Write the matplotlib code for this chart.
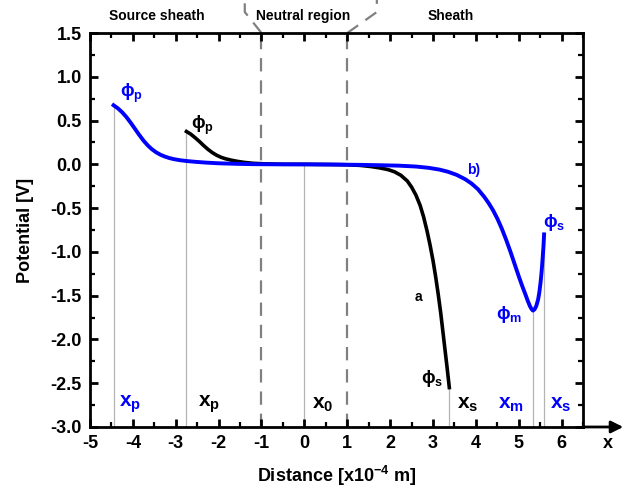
import matplotlib
matplotlib.use("Agg")
import matplotlib.pyplot as plt
from matplotlib.ticker import MultipleLocator, FormatStrFormatter

plt.rcParams["font.family"] = ["Liberation Sans", "DejaVu Sans"]
plt.rcParams["font.weight"] = "bold"
plt.rcParams["axes.unicode_minus"] = False
plt.rcParams["mathtext.fontset"] = "custom"
plt.rcParams["mathtext.rm"] = "Liberation Sans:bold"
plt.rcParams["mathtext.it"] = "Liberation Sans:bold"
plt.rcParams["mathtext.bf"] = "Liberation Sans:bold"
plt.rcParams["mathtext.fallback"] = "stixsans"

# curve b) (blue)
blue_x = [-4.45, -4.35, -4.25, -4.15, -4.05, -3.95, -3.85, -3.75, -3.65, -3.55,
          -3.45, -3.35, -3.25, -3.15, -3.05, -2.90, -2.75, -2.55, -2.30, -2.00,
          -1.60, -1.20, -0.60, 0.00, 0.80, 1.30, 1.76, 2.20, 2.60, 2.90,
          3.15, 3.35, 3.55, 3.75, 3.90, 4.05, 4.20, 4.30, 4.40, 4.50,
          4.60, 4.70, 4.80, 4.90, 5.00, 5.08, 5.15, 5.21, 5.26, 5.30,
          5.33, 5.37, 5.41, 5.45, 5.48, 5.51, 5.535, 5.555, 5.575, 5.59]
blue_y = [0.675, 0.640, 0.595, 0.540, 0.475, 0.405, 0.335, 0.270, 0.215, 0.170,
          0.135, 0.108, 0.088, 0.072, 0.060, 0.047, 0.038, 0.029, 0.020, 0.012,
          0.006, 0.002, 0.0, 0.0, -0.003, -0.006, -0.010, -0.015, -0.025, -0.040,
          -0.060, -0.085, -0.120, -0.170, -0.220, -0.285, -0.375, -0.445, -0.525, -0.620,
          -0.730, -0.855, -0.990, -1.135, -1.280, -1.390, -1.480, -1.560, -1.620, -1.655,
          -1.670, -1.655, -1.615, -1.545, -1.460, -1.340, -1.210, -1.080, -0.940, -0.800]

# curve a (black)
black_x = [-2.75, -2.65, -2.55, -2.45, -2.35, -2.25, -2.15, -2.05, -1.95, -1.85,
           -1.70, -1.55, -1.40, -1.20, -0.90, -0.50, 0.00, 0.60, 1.00, 1.30,
           1.55, 1.75, 1.95, 2.10, 2.25, 2.40, 2.50, 2.60, 2.70, 2.78,
           2.86, 2.93, 3.00, 3.06, 3.12, 3.18, 3.23, 3.28, 3.33, 3.38]
black_y = [0.375, 0.345, 0.305, 0.262, 0.215, 0.172, 0.135, 0.105, 0.082, 0.065,
           0.047, 0.033, 0.022, 0.012, 0.005, 0.001, 0.0, -0.002, -0.005, -0.012,
           -0.025, -0.040, -0.060, -0.085, -0.125, -0.190, -0.260, -0.350, -0.470, -0.600,
           -0.760, -0.920, -1.100, -1.280, -1.480, -1.700, -1.910, -2.120, -2.330, -2.550]

# region borders and marked positions
region_x = [-1.0, 1.0]
region_names = ["Source sheath", "Neutral region", "Sheath"]
region_name_x = [-3.44, -0.03, 3.41]

mark_x = [-4.45, -2.75, 0.0, 3.38, 5.33, 5.59]
mark_top = [0.675, 0.375, 0.0, -2.55, -1.67, -0.80]

bottom_labels = [r"$\mathbf{x_p}$", r"$\mathbf{x_p}$", r"$\mathbf{x_0}$",
                 r"$\mathbf{x_s}$", r"$\mathbf{x_m}$", r"$\mathbf{x_s}$"]
bottom_label_x = [-4.07, -2.23, 0.42, 3.81, 4.81, 5.98]
bottom_colors = ["#0000ff", "black", "black", "black", "#0000ff", "#0000ff"]

BLUE = "#0000ff"

fig = plt.figure(figsize=(6.27, 4.95), dpi=100)
ax = fig.add_axes([0.1435, 0.1374, 0.7865, 0.7959])

ax.set_xlim(-5, 6.5)
ax.set_ylim(-3.0, 1.5)

# thin gray markers
for xv, yt in zip(mark_x, mark_top):
    ax.plot([xv, xv], [-3.0, yt], color="#b4b4b4", lw=0.9, zorder=1)

# region borders (dashed), continuing above the frame
for xv in region_x:
    ax.plot([xv, xv], [-3.0, 1.5], color="#808080", lw=1.6,
            dashes=(6, 4), zorder=1)
ax.plot([-1.0, -1.39, -1.39], [1.5, 1.74, 1.95], color="#808080", lw=1.6,
        dashes=(6, 4), clip_on=False)
ax.plot([1.0, 1.69, 1.69], [1.5, 1.74, 1.95], color="#808080", lw=1.6,
        dashes=(6, 4), clip_on=False)

ax.plot(black_x, black_y, color="black", lw=2.6, zorder=3)
ax.plot(blue_x, blue_y, color=BLUE, lw=2.8, zorder=4)

for name, xv in zip(region_names, region_name_x):
    ax.text(xv, 1.69, name, ha="center", va="center", fontsize=10,
            fontweight="bold", clip_on=False)

# curve annotations
ax.text(-4.04, 0.81, r"$\phi_\mathbf{p}$", color=BLUE, fontsize=13, ha="center", va="center")
ax.text(-2.39, 0.45, r"$\phi_\mathbf{p}$", color="black", fontsize=13, ha="center", va="center")
ax.text(3.95, -0.07, "b)", color=BLUE, fontsize=10, ha="center", va="center")
ax.text(2.65, -1.51, "a", color="black", fontsize=10, ha="center", va="center")
ax.text(2.97, -2.45, r"$\phi_\mathbf{s}$", color="black", fontsize=13, ha="center", va="center")
ax.text(4.77, -1.72, r"$\phi_\mathbf{m}$", color=BLUE, fontsize=13, ha="center", va="center")
ax.text(5.82, -0.66, r"$\phi_\mathbf{s}$", color=BLUE, fontsize=13, ha="center", va="center")

for lab, xv, c in zip(bottom_labels, bottom_label_x, bottom_colors):
    ax.text(xv, -2.74, lab, color=c, fontsize=15, ha="center", va="center")

# axis ticks
ax.xaxis.set_major_locator(MultipleLocator(1))
ax.xaxis.set_minor_locator(MultipleLocator(0.5))
ax.yaxis.set_major_locator(MultipleLocator(0.5))
ax.yaxis.set_minor_locator(MultipleLocator(0.25))
ax.yaxis.set_major_formatter(FormatStrFormatter("%.1f"))
ax.tick_params(which="major", direction="in", length=6, width=2,
               top=True, right=True, labelsize=13, pad=6)
ax.tick_params(which="minor", direction="in", length=3.5, width=1.6,
               top=True, right=True)
for lab in ax.get_xticklabels() + ax.get_yticklabels():
    lab.set_fontweight("bold")
for sp in ax.spines.values():
    sp.set_linewidth(2)

# arrow extending the x axis
ax.annotate("", xy=(7.5, -3.0), xytext=(6.45, -3.0), xycoords="data",
            arrowprops=dict(arrowstyle="-|>", color="black", lw=2,
                            mutation_scale=18), annotation_clip=False)
ax.text(7.07, -3.19, "x", fontsize=13, fontweight="bold", ha="center", va="center",
        clip_on=False)

ax.set_xlabel(r"Distance [x10$^{\mathbf{-4}}$ m]", fontsize=13, fontweight="bold", labelpad=8)
ax.set_ylabel("Potential [V]", fontsize=13, fontweight="bold", labelpad=12)

fig.savefig("out.png", dpi=100)
